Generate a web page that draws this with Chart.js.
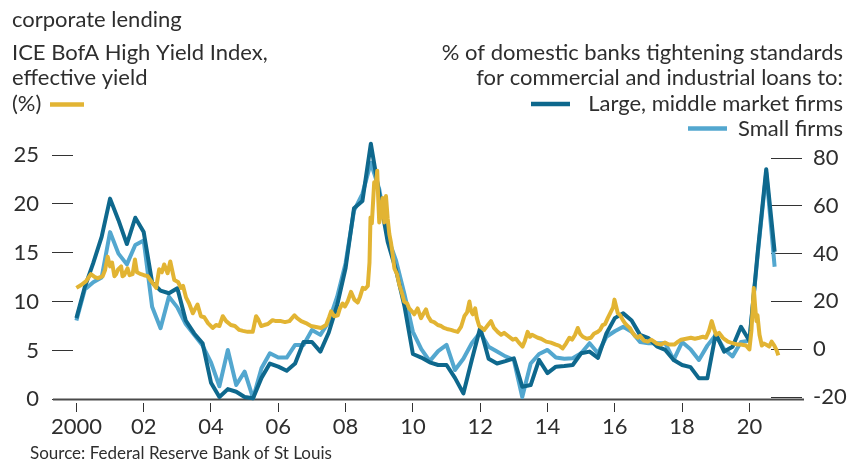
<!DOCTYPE html>
<html>
<head>
<meta charset="utf-8">
<script src="https://cdn.jsdelivr.net/npm/chart.js@4.4.0/dist/chart.umd.min.js"></script>
<style>
  html, body { margin: 0; padding: 0; background: #fff; }
  #wrap { width: 850px; height: 462px; }
</style>
</head>
<body>
<div id="wrap"><canvas id="chart" width="850" height="462"></canvas></div>
<script>
// High yield index, effective yield (%), left axis
const hyDates = [
  2000.00, 2000.14, 2000.29, 2000.43, 2000.55, 2000.64, 2000.78, 2000.85, 2000.93, 2001.00,
  2001.06, 2001.13, 2001.18, 2001.24, 2001.33, 2001.37, 2001.42, 2001.52, 2001.58, 2001.67,
  2001.74, 2001.80, 2001.92, 2002.01, 2002.12, 2002.22, 2002.37, 2002.46, 2002.54, 2002.61,
  2002.71, 2002.79, 2002.91, 2003.02, 2003.11, 2003.17, 2003.26, 2003.35, 2003.46, 2003.52,
  2003.60, 2003.70, 2003.80, 2003.91, 2004.05, 2004.15, 2004.25, 2004.35, 2004.45, 2004.59,
  2004.71, 2004.84, 2004.95, 2005.09, 2005.24, 2005.34, 2005.40, 2005.49, 2005.58, 2005.69,
  2005.83, 2005.93, 2006.08, 2006.20, 2006.33, 2006.48, 2006.56, 2006.68, 2006.82, 2006.97,
  2007.12, 2007.27, 2007.42, 2007.51, 2007.57, 2007.66, 2007.77, 2007.83, 2007.91, 2007.98,
  2008.06, 2008.16, 2008.26, 2008.36, 2008.43, 2008.51, 2008.58, 2008.66, 2008.71, 2008.74,
  2008.78, 2008.85, 2008.90, 2008.94, 2008.97, 2009.00, 2009.05, 2009.10, 2009.15, 2009.20,
  2009.25, 2009.30, 2009.35, 2009.40, 2009.45, 2009.53, 2009.60, 2009.68, 2009.74, 2009.83,
  2009.89, 2009.97, 2010.04, 2010.14, 2010.24, 2010.32, 2010.39, 2010.45, 2010.54, 2010.63,
  2010.74, 2010.84, 2010.92, 2011.01, 2011.13, 2011.22, 2011.33, 2011.43, 2011.53, 2011.61,
  2011.68, 2011.73, 2011.78, 2011.85, 2011.90, 2011.97, 2012.05, 2012.12, 2012.23, 2012.32,
  2012.41, 2012.52, 2012.62, 2012.71, 2012.82, 2012.97, 2013.06, 2013.15, 2013.26, 2013.33,
  2013.41, 2013.48, 2013.54, 2013.71, 2013.81, 2013.96, 2014.10, 2014.25, 2014.34, 2014.45,
  2014.55, 2014.65, 2014.73, 2014.82, 2014.90, 2014.97, 2015.05, 2015.17, 2015.29, 2015.38,
  2015.49, 2015.56, 2015.64, 2015.71, 2015.79, 2015.89, 2015.95, 2015.99, 2016.04, 2016.09,
  2016.16, 2016.24, 2016.30, 2016.38, 2016.45, 2016.53, 2016.60, 2016.68, 2016.75, 2016.87,
  2016.98, 2017.08, 2017.17, 2017.25, 2017.37, 2017.49, 2017.61, 2017.77, 2017.88, 2017.97,
  2018.12, 2018.26, 2018.38, 2018.51, 2018.62, 2018.71, 2018.80, 2018.88, 2018.95, 2019.01,
  2019.10, 2019.21, 2019.28, 2019.36, 2019.45, 2019.55, 2019.66, 2019.75, 2019.90, 2020.00,
  2020.06, 2020.13, 2020.17, 2020.21, 2020.24, 2020.30, 2020.37, 2020.43, 2020.49, 2020.59,
  2020.66, 2020.74, 2020.81, 2020.86
];
const hyYield = [
  11.4, 11.7, 12.1, 12.8, 12.5, 12.4, 12.6, 13.2, 14.6, 13.6,
  14.0, 12.6, 12.8, 13.3, 13.6, 12.6, 12.7, 13.4, 12.7, 12.8,
  14.3, 13.0, 12.8, 12.7, 12.6, 12.1, 11.4, 13.3, 13.0, 13.8,
  12.9, 14.1, 12.2, 12.0, 11.4, 11.6, 10.4, 9.8, 8.8, 9.2,
  9.7, 8.5, 8.4, 7.8, 7.3, 7.6, 7.5, 8.5, 8.0, 7.6,
  7.5, 7.1, 7.0, 6.9, 6.9, 8.5, 8.2, 7.5, 7.6, 7.7,
  8.1, 8.0, 8.0, 7.9, 8.0, 8.6, 8.3, 8.0, 7.8, 7.5,
  7.4, 7.3, 7.6, 8.4, 9.0, 8.5, 8.6, 9.3, 9.8, 9.5,
  10.0, 11.0, 10.2, 9.9, 10.5, 11.4, 11.3, 11.6, 14.0, 18.6,
  18.0, 22.2, 22.0, 23.4, 20.5, 18.1, 19.0, 20.6, 18.1, 20.8,
  18.5, 16.9, 16.0, 14.8, 13.4, 12.8, 11.7, 10.8, 10.0, 9.8,
  9.3, 9.0, 8.7, 9.3, 8.3, 8.8, 9.2, 8.5, 8.0, 7.9,
  7.6, 7.5, 7.3, 7.2, 7.1, 7.0, 6.9, 7.4, 8.5, 8.9,
  10.0, 9.0, 8.7, 9.3, 8.3, 7.5, 7.3, 7.1, 7.6, 8.0,
  7.3, 6.9, 6.6, 6.8, 6.5, 6.1, 6.2, 5.8, 5.4, 6.0,
  6.9, 6.4, 6.6, 6.3, 6.2, 5.9, 5.8, 5.6, 5.5, 5.2,
  5.7, 6.3, 6.1, 6.6, 7.3, 6.7, 6.4, 6.2, 6.3, 6.7,
  6.9, 7.1, 7.6, 7.7, 8.3, 9.0, 9.4, 10.2, 9.5, 8.8,
  8.6, 8.1, 7.8, 7.5, 7.3, 6.8, 6.5, 6.3, 6.5, 6.0,
  5.9, 6.1, 5.9, 5.7, 5.6, 5.8, 5.6, 5.6, 5.9, 6.1,
  6.2, 6.3, 6.2, 6.3, 6.4, 6.3, 7.0, 8.0, 7.2, 6.6,
  6.8, 6.3, 6.1, 5.9, 5.8, 5.7, 5.6, 5.6, 5.5, 5.1,
  7.0, 11.4, 9.5, 8.0, 8.6, 6.6, 5.5, 5.7, 5.6, 5.4,
  5.9, 5.5, 5.0, 4.5
];

// Quarterly survey, % of banks tightening C&I standards, 2000 Q1 to 2020 Q4 (right axis)
const firstQuarter = 2000;
const largeFirms = [
  13, 26, 36, 47,
  63, 54, 44, 55,
  49, 28, 24.5, 23.4,
  25.5, 12, 6.6, 2.5,
  -14, -20, -16.7, -17.8,
  -20, -20.5, -12, -6,
  -7.3, -9, -6, 3,
  3, -1, 7, 18.5,
  34, 59, 62, 86,
  65, 45, 33, 18,
  -2, -3.5, -5.5, -6.6,
  -6.6, -12, -18.5, -4.5,
  9, -4, -6, -5,
  -3.8, -15.7, -15, -4.5,
  -10, -7.3, -7, -6.6,
  -1.7, -1, -3.6, 6.6,
  13, 15, 12, 6,
  4.6, 1.2, -0.3, -4.5,
  -6.6, -7.5, -12.2, -12.2,
  6.4, -1, 1, 9.4,
  3.5, 41, 75.3, 40.8
];
const smallFirms = [
  12, 25, 28, 30,
  49, 40, 35.5, 43.6,
  45.5, 17.8, 8.8, 22,
  17.5, 10.5, 6, 1.5,
  -5.5, -15.5, -0.3, -15,
  -9.4, -20.5, -8, -1.7,
  -3.5, -3.5, 1.8, 1.8,
  8, 6, 11.5, 22,
  36, 58, 65, 78,
  67, 47, 37, 23,
  7.3, 0, -5, -0.8,
  1.8, -8.7, -4, 2.5,
  7, 1, -1, -3,
  -4.5, -20, -6, -2,
  -0.3, -3.5, -4, -3.8,
  -1.7, 2.5, -1.7, 5.2,
  7.5, 9.4, 7.3, 3,
  2.5, 2.5, 2.5, -4.5,
  3, 0, -4.5, 1.5,
  6, 0, -3, 3,
  3.5, 40, 74, 34.5
];

// Axis ticks and ranges
const xTickYears = [2000, 2002, 2004, 2006, 2008, 2010, 2012, 2014, 2016, 2018, 2020];
const xTickLabels = ['2000', '02', '04', '06', '08', '10', '12', '14', '16', '18', '20'];
const leftTicks = [0, 5, 10, 15, 20, 25];
const rightTicks = [-20, 0, 20, 40, 60, 80];
const xRange = [1999.899, 2020.642];

const YELLOW = '#e2b433';
const DARK = '#0e688d';
const LIGHT = '#53a7cf';
const TEXT = '#2e2e2e';
const FONT = 'Lato, "Noto Sans", sans-serif';

const quarterPoints = values => values.map((v, i) => ({ x: firstQuarter + i * 0.25, y: v }));

// header, legend keys and source line
const annotations = {
  id: 'annotations',
  afterDraw(chart) {
    const c = chart.ctx;
    c.save();
    c.fillStyle = TEXT;
    c.textBaseline = 'alphabetic';
    c.font = '22px ' + FONT;
    c.textAlign = 'left';
    c.fillText('corporate lending', 12, 27);
    c.fillText('ICE BofA High Yield Index,', 12, 60);
    c.fillText('effective yield', 12, 85);
    c.fillText('(%)', 12, 111);
    c.textAlign = 'right';
    c.fillText('% of domestic banks tightening standards', 843, 60);
    c.fillText('for commercial and industrial loans to:', 843, 85);
    c.fillText('Large, middle market firms', 843, 111);
    c.fillText('Small firms', 843, 136);
    c.textAlign = 'left';
    c.font = '17px ' + FONT;
    c.fillText('Source: Federal Reserve Bank of St Louis', 30, 459);

    c.lineWidth = 4.5;
    c.lineCap = 'butt';
    [[YELLOW, 50, 84, 104.5], [DARK, 531, 570, 104], [LIGHT, 688, 727, 128.5]].forEach(([col, x1, x2, y]) => {
      c.strokeStyle = col;
      c.beginPath();
      c.moveTo(x1, y);
      c.lineTo(x2, y);
      c.stroke();
    });
    c.restore();
  },
  beforeDatasetsDraw(chart) {
    // baseline running under both sets of tick marks
    const c = chart.ctx;
    const y = Math.round(chart.scales.y.getPixelForValue(0)) + 0.5;
    c.save();
    c.strokeStyle = '#4a4a4a';
    c.lineWidth = 2;
    c.beginPath();
    c.moveTo(53, y);
    c.lineTo(804, y);
    c.stroke();
    c.restore();
  }
};

const tickFont = { family: FONT, size: 22 };

new Chart(document.getElementById('chart'), {
  type: 'line',
  data: {
    datasets: [
      {
        label: 'ICE BofA High Yield Index, effective yield',
        data: hyDates.map((d, i) => ({ x: d, y: hyYield[i] })),
        yAxisID: 'y',
        borderColor: YELLOW,
        borderWidth: 4,
        clip: false
      },
      {
        label: 'Large, middle market firms',
        data: quarterPoints(largeFirms),
        yAxisID: 'y1',
        borderColor: DARK,
        borderWidth: 4,
        clip: false
      },
      {
        label: 'Small firms',
        data: quarterPoints(smallFirms),
        yAxisID: 'y1',
        borderColor: LIGHT,
        borderWidth: 4,
        clip: false
      }
    ]
  },
  options: {
    responsive: false,
    animation: false,
    layout: { padding: { top: 155, left: 0, right: 0, bottom: 0 } },
    elements: {
      point: { radius: 0 },
      line: { tension: 0, borderJoinStyle: 'round', borderCapStyle: 'butt' }
    },
    plugins: { legend: { display: false }, tooltip: { enabled: false } },
    scales: {
      x: {
        type: 'linear',
        bounds: 'data',
        // range set after data limits so the last points past the right edge still get drawn
        afterDataLimits: s => { s.min = xRange[0]; s.max = xRange[1]; },
        border: { display: false },
        grid: { drawOnChartArea: false, tickLength: 9, color: '#333', lineWidth: 1 },
        afterBuildTicks: s => { s.ticks = xTickYears.map(v => ({ value: v })); },
        afterFit: s => { s.height = 59; },
        ticks: {
          autoSkip: false,
          maxRotation: 0,
          padding: 2,
          color: TEXT,
          font: tickFont,
          callback: v => xTickLabels[xTickYears.indexOf(v)]
        }
      },
      y: {
        position: 'left',
        min: -0.379,
        max: 25,
        border: { display: false },
        grid: { drawOnChartArea: false, tickLength: 21, color: '#333', lineWidth: 1 },
        afterBuildTicks: s => { s.ticks = leftTicks.map(v => ({ value: v })); },
        afterFit: s => { s.width = 73; },
        ticks: { padding: 13, color: TEXT, font: tickFont, callback: v => String(v) }
      },
      y1: {
        position: 'right',
        min: -22.51,
        max: 81.26,
        border: { display: false },
        grid: { drawOnChartArea: false, tickLength: 31, color: '#333', lineWidth: 1 },
        afterBuildTicks: s => { s.ticks = rightTicks.map(v => ({ value: v })); },
        afterFit: s => { s.width = 79; },
        ticks: { padding: 11, color: TEXT, font: tickFont, callback: v => String(v) }
      }
    }
  },
  plugins: [annotations]
});
</script>
</body>
</html>
